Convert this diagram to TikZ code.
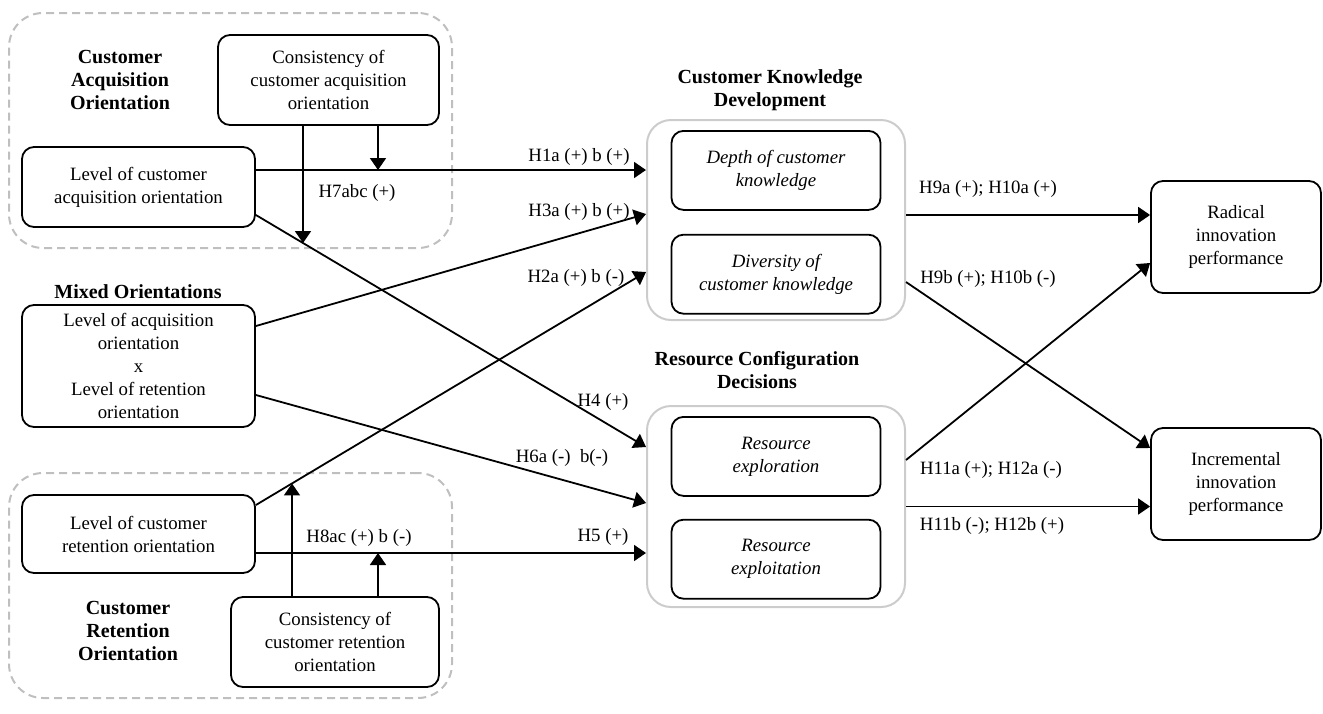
\documentclass[tikz,border=0pt]{standalone}
\usepackage{fontspec}
\setmainfont{Liberation Serif}
\usetikzlibrary{arrows.meta, positioning, calc}
\tikzstyle{block} = [rectangle, draw, rounded corners=6pt, line width=0.9pt, align=center, inner sep=0pt, font=\fontsize{9.4}{11.5}\selectfont]
\tikzstyle{latent} = [block, font=\fontsize{9.4}{11.5}\selectfont\itshape, minimum width=104.5pt, minimum height=39.5pt]
\tikzstyle{group} = [rectangle, draw=gray!40, rounded corners=12pt, line width=1pt, minimum width=129pt]
\tikzstyle{orient} = [rectangle, draw=gray!50, dash pattern=on 4pt off 2.5pt, rounded corners=17pt, line width=1pt, minimum width=221.5pt]
\tikzstyle{title} = [align=center, inner sep=0pt, font=\fontsize{10}{11.5}\selectfont\bfseries]
\tikzstyle{hyp} = [inner sep=1pt, font=\fontsize{9.4}{11.5}\selectfont]
\tikzstyle{link} = [line width=0.9pt, -{Triangle[length=6pt,width=8pt]}]

\begin{document}
\begin{tikzpicture}[x=0.5pt, y=-0.5pt]
	\useasboundingbox (0,0) rectangle (1323,713);

	% Orientation groups
	\node (acqgroup) [orient, minimum height=117.5pt] at (230.5,130.5) {};
	\node (retgroup) [orient, minimum height=112.5pt] at (230.5,585.5) {};

	% Antecedents
	\node (acqcons) [block, minimum width=110.5pt, minimum height=45pt] at (328.5,80) {Consistency of\\customer acquisition\\orientation};
	\node (acqlevel) [block, minimum width=116.5pt, minimum height=40pt] at (138.5,187) {Level of customer\\acquisition orientation};
	\node (mixed) [block, minimum width=116.5pt, minimum height=61pt] at (138.5,366) {Level of acquisition\\orientation\\x\\Level of retention\\orientation};
	\node (retlevel) [block, minimum width=116.5pt, minimum height=39pt] at (138.5,534) {Level of customer\\retention orientation};
	\node (retcons) [block, minimum width=104pt, minimum height=45pt] at (335,642) {Consistency of\\customer retention\\orientation};

	\node (acqtitle) [title] at (120,80) {Customer\\Acquisition\\Orientation};
	\node (mixedtitle) [title] at (138,292) {Mixed Orientations};
	\node (rettitle) [title] at (128,631) {Customer\\Retention\\Orientation};

	% Mediators
	\node (ckd) [group, minimum height=100pt] at (776,220) {};
	\node (rcd) [group, minimum height=100.5pt] at (776,506.5) {};
	\node (depth) [latent, below=5.5pt of ckd.north] {Depth of customer\\knowledge};
	\node (diversity) [latent, below=11.5pt of depth] {Diversity of\\customer knowledge};
	\node (explore) [latent, below=5.5pt of rcd.north] {Resource\\exploration};
	\node (exploit) [latent, below=11pt of explore] {Resource\\exploitation};

	\node (ckdtitle) [title] at (770,90) {Customer Knowledge\\Development};
	\node (rcdtitle) [title] at (757,370) {Resource Configuration\\Decisions};

	% Outcomes
	\node (radical) [block, minimum width=85pt, minimum height=56pt] at (1236,237) {Radical\\innovation\\performance};
	\node (incr) [block, minimum width=85pt, minimum height=56pt] at (1236,484) {Incremental\\innovation\\performance};

	% Connector ends
	\coordinate (h1s) at ([yshift=8.5pt]acqlevel.east);
	\coordinate (h4s) at ([yshift=-14pt]acqlevel.east);
	\coordinate (h4e) at ([yshift=29.75pt]rcd.west);
	\coordinate (h3s) at ([yshift=20pt]mixed.east);
	\coordinate (h3e) at ([yshift=3pt]ckd.west);
	\coordinate (h6s) at ([yshift=-14.5pt]mixed.east);
	\coordinate (h6e) at ([yshift=1.75pt]rcd.west);
	\coordinate (h2s) at ([yshift=14.5pt]retlevel.east);
	\coordinate (h2e) at ([yshift=-26pt]ckd.west);
	\coordinate (h5s) at ([yshift=-9.5pt]retlevel.east);
	\coordinate (m7a) at ([xshift=24.75pt]acqcons.south);
	\coordinate (m7b) at ([xshift=-12.75pt]acqcons.south);
	\coordinate (m7bdown) at ([yshift=-100pt]m7b);
	\coordinate (m8a) at ([xshift=21.5pt]retcons.north);
	\coordinate (m8b) at ([xshift=-21.5pt]retcons.north);
	\coordinate (m8bup) at ([yshift=100pt]m8b);
	\coordinate (h9as) at ([yshift=2.5pt]ckd.east);
	\coordinate (h9bs) at ([yshift=-31pt]ckd.east);
	\coordinate (h9be) at ([yshift=18pt]incr.west);
	\coordinate (h11as) at ([yshift=23.25pt]rcd.east);
	\coordinate (h11ae) at ([yshift=-13pt]radical.west);

	% Arrows - antecedents
	\draw[link] (h1s) -- (h1s -| ckd.west);
	\draw[link] (h4s) -- (h4e);
	\draw[link] (h3s) -- (h3e);
	\draw[link] (h6s) -- (h6e);
	\draw[link] (h2s) -- (h2e);
	\draw[link] (h5s) -- (h5s -| rcd.west);

	% Arrows - moderation
	\draw[link] (m7a) -- (m7a |- h1s);
	\draw[link] (m7b) -- (intersection of m7b--m7bdown and h4s--h4e);
	\draw[link] (m8a) -- (m8a |- h5s);
	\draw[link] (m8b) -- (intersection of m8b--m8bup and h2s--h2e);

	% Arrows - outcomes
	\draw[link] (h9as) -- (h9as -| radical.west);
	\draw[link] (h9bs) -- (h9be);
	\draw[link] (h11as) -- (h11ae);
	\draw[link] (rcd.east) -- (rcd.east -| incr.west);

	% Hypotheses
	\node (lblh1) [hyp] at (579,157) {H1a (+) b (+)};
	\node (lblh3) [hyp] at (579,212) {H3a (+) b (+)};
	\node (lblh2) [hyp] at (576,278) {H2a (+) b (-)};
	\node (lblh7) [hyp] at (357,193) {H7abc (+)};
	\node (lblh4) [hyp] at (603,402) {H4 (+)};
	\node (lblh6) [hyp] at (562,458) {H6a (-)\enspace b(-)};
	\node (lblh5) [hyp] at (603,537) {H5 (+)};
	\node (lblh8) [hyp] at (359,538) {H8ac (+) b (-)};
	\node (lblh9a) [hyp] at (988,189) {H9a (+); H10a (+)};
	\node (lblh9b) [hyp] at (988,279) {H9b (+); H10b (-)};
	\node (lblh11a) [hyp] at (991,470) {H11a (+); H12a (-)};
	\node (lblh11b) [hyp] at (992,526) {H11b (-); H12b (+)};

\end{tikzpicture}
\end{document}
